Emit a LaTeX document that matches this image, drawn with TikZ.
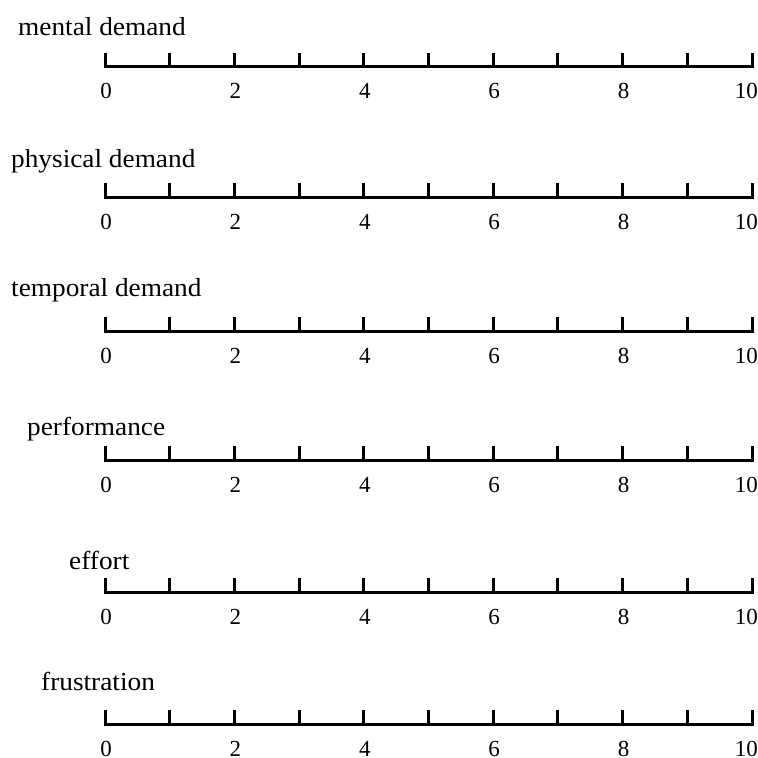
\documentclass[tikz,border=0pt]{standalone}
\usepackage{fontspec}
\usetikzlibrary{calc}
\setmainfont{Liberation Serif}
\newfontfamily\labfont[FakeStretch=1.05]{Liberation Serif}
\begin{document}
\begin{tikzpicture}[x=1pt,y=-1pt,
  scaleline/.style={line width=3pt,line join=miter,line cap=butt},
  tickmark/.style={line width=3pt},
  lab/.style={inner sep=0pt,anchor=base west,font=\labfont\fontsize{26pt}{26pt}\selectfont},
  num/.style={inner sep=0pt,anchor=base,font=\fontsize{23pt}{23pt}\selectfont}]
\useasboundingbox[fill=white] (0,0) rectangle (758,758);
\def\xl{105}
\def\dx{64.7}
\foreach \yy/\lx/\ly/\txt/\nm in {66.7/18/35/mental demand/a,
                          197/11/167/physical demand/b,
                          331/11/296/temporal demand/c,
                          460/27/435/performance/d,
                          592/69/569/effort/e,
                          724/41/690/frustration/f}{
  \node[lab] (lab\nm) at (\lx,\ly) {\txt};
  \coordinate (s\nm0) at (\xl,\yy);
  \coordinate (s\nm10) at (\xl+10*\dx,\yy);
  \draw[scaleline] ($(s\nm0)+(0,-14)$) |- (s\nm10) -- ++(0,-14);
  \foreach \k in {1,...,9}{
    \draw[tickmark] (\xl+\k*\dx,\yy) -- ++(0,-14);
  }
  \foreach \k in {0,2,4,6,8}{
    \node[num] (n\nm\k) at (\xl+\k*\dx+1,\yy+32) {\k};
  }
  \node[num,anchor=base east] (n\nm10) at (758,\yy+32) {10};
}
\end{tikzpicture}
\end{document}
